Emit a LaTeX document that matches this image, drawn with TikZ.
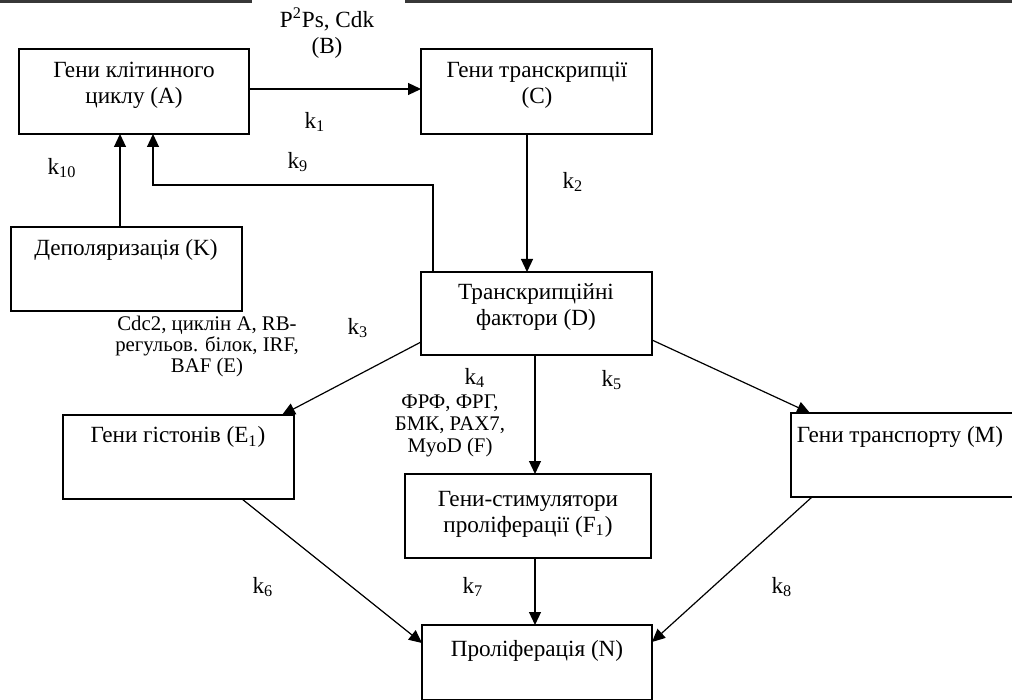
\documentclass[tikz,border=0pt]{standalone}
\usepackage{fontspec}
\setmainfont{Liberation Serif}
\usetikzlibrary{arrows.meta,calc}
\begin{document}
\begin{tikzpicture}[x=0.5pt, y=-0.5pt, line width=0.6pt,
  box/.style={draw, inner sep=0pt, outer sep=0pt, anchor=north west},
  txt/.style={align=center, inner sep=0pt, font=\fontsize{11.6}{13}\selectfont},
  small/.style={align=center, inner sep=0pt, font=\fontsize{10.4}{10.5}\selectfont},
  arr/.style={-{Triangle[length=6.5pt,width=6pt]}, line width=0.6pt},
  topline/.style={line width=1.3pt, black!78}]
\useasboundingbox (0,0) rectangle (1012,700);
\clip (0,0) rectangle (1012,700);
% top rule
\draw[topline] (0,1.3) -- (252,1.3);
\draw[topline] (405,1.3) -- (1012,1.3);
% boxes
\node[box, minimum width=115pt, minimum height=42.5pt] (A) at (19,49) {};
\node[box, minimum width=115.5pt, minimum height=42.5pt] (C) at (421,49) {};
\node[box, minimum width=115.5pt, minimum height=42pt] (K) at (11,227) {};
\node[box, minimum width=115.5pt, minimum height=41.5pt] (D) at (421,272) {};
\node[box, minimum width=115.5pt, minimum height=42pt] (E1) at (63,415) {};
\node[box, minimum width=123pt, minimum height=42pt] (F1) at (405,474) {};
\node[box, minimum width=115pt, minimum height=42pt] (M) at (791,413) {};
\node[box, minimum width=115pt, minimum height=37.25pt] (N) at (422,625) {};
% box texts
\node[txt] (tA) at (134,85) {Гени клітинного\\циклу (A)};
\node[txt] (tC) at (537,85) {Гени транскрипції\\(C)};
\node[txt] (tK) at (126,250) {Деполяризація (K)};
\node[txt] (tD) at (536,307) {Транскрипційні\\фактори (D)};
\node[txt] (tE1) at (178,437) {Гени гістонів (E\textsubscript{1})};
\node[txt] (tF1) at (528,514) {Гени-стимулятори\\проліферації (F\textsubscript{1})};
\node[txt] (tM) at (900,437) {Гени транспорту (M)};
\node[txt] (tN) at (537,651) {Проліферація (N)};
% other labels
\node[txt] (lB) at (327,33) {P\textsuperscript{2}Ps, Cdk\\(B)};
\node[small] (lE) at (207,346) {Cdc2, циклін A, RB-\\регульов. білок, IRF,\\BAF (E)};
\node[small, font=\fontsize{10.4}{11}\selectfont] (lF) at (450,426) {ФРФ, ФРГ,\\БМК, PAX7,\\MyoD (F)};
\node[txt] (k1) at (315,122) {k\textsubscript{1}};
\node[txt] (k2) at (573,182) {k\textsubscript{2}};
\node[txt] (k3) at (358,328) {k\textsubscript{3}};
\node[txt] (k4) at (475,378) {k\textsubscript{4}};
\node[txt] (k5) at (612,380) {k\textsubscript{5}};
\node[txt] (k6) at (263,587) {k\textsubscript{6}};
\node[txt] (k7) at (473,587) {k\textsubscript{7}};
\node[txt] (k8) at (782,587) {k\textsubscript{8}};
\node[txt] (k9) at (298,162) {k\textsubscript{9}};
\node[txt] (k10) at (62,168) {k\textsubscript{10}};
% connectors
\coordinate (b9) at (433,185);
\draw[arr] ([yshift=1.25pt]A.east) -- ([yshift=1.25pt]C.west);
\draw[arr] ([xshift=-3.25pt]K.north) -- ([xshift=-3.25pt]K.north |- A.south);
\draw[arr] ([xshift=-51.75pt]D.north) -- (b9) -| ([xshift=9.5pt]A.south);
\draw[arr] ([xshift=-4.75pt]C.south) -- ([xshift=-4.75pt]D.north);
\draw[arr] ([yshift=6.5pt]D.south west) -- ([xshift=-6pt]E1.north east);
\draw[arr] ([xshift=-0.75pt]D.south) -- ([xshift=-0.75pt]D.south |- F1.north);
\draw[arr] ([yshift=7.5pt]D.south east) -- ([xshift=9.5pt]M.north west);
\draw[arr] ([xshift=-26pt]E1.south east) -- ([yshift=-9pt]N.north west);
\draw[arr] ([xshift=3.5pt]F1.south) -- ([xshift=3.5pt]F1.south |- N.north);
\draw[arr] ([xshift=10.5pt]M.south west) -- ([yshift=-8.5pt]N.north east);
\end{tikzpicture}
\end{document}
